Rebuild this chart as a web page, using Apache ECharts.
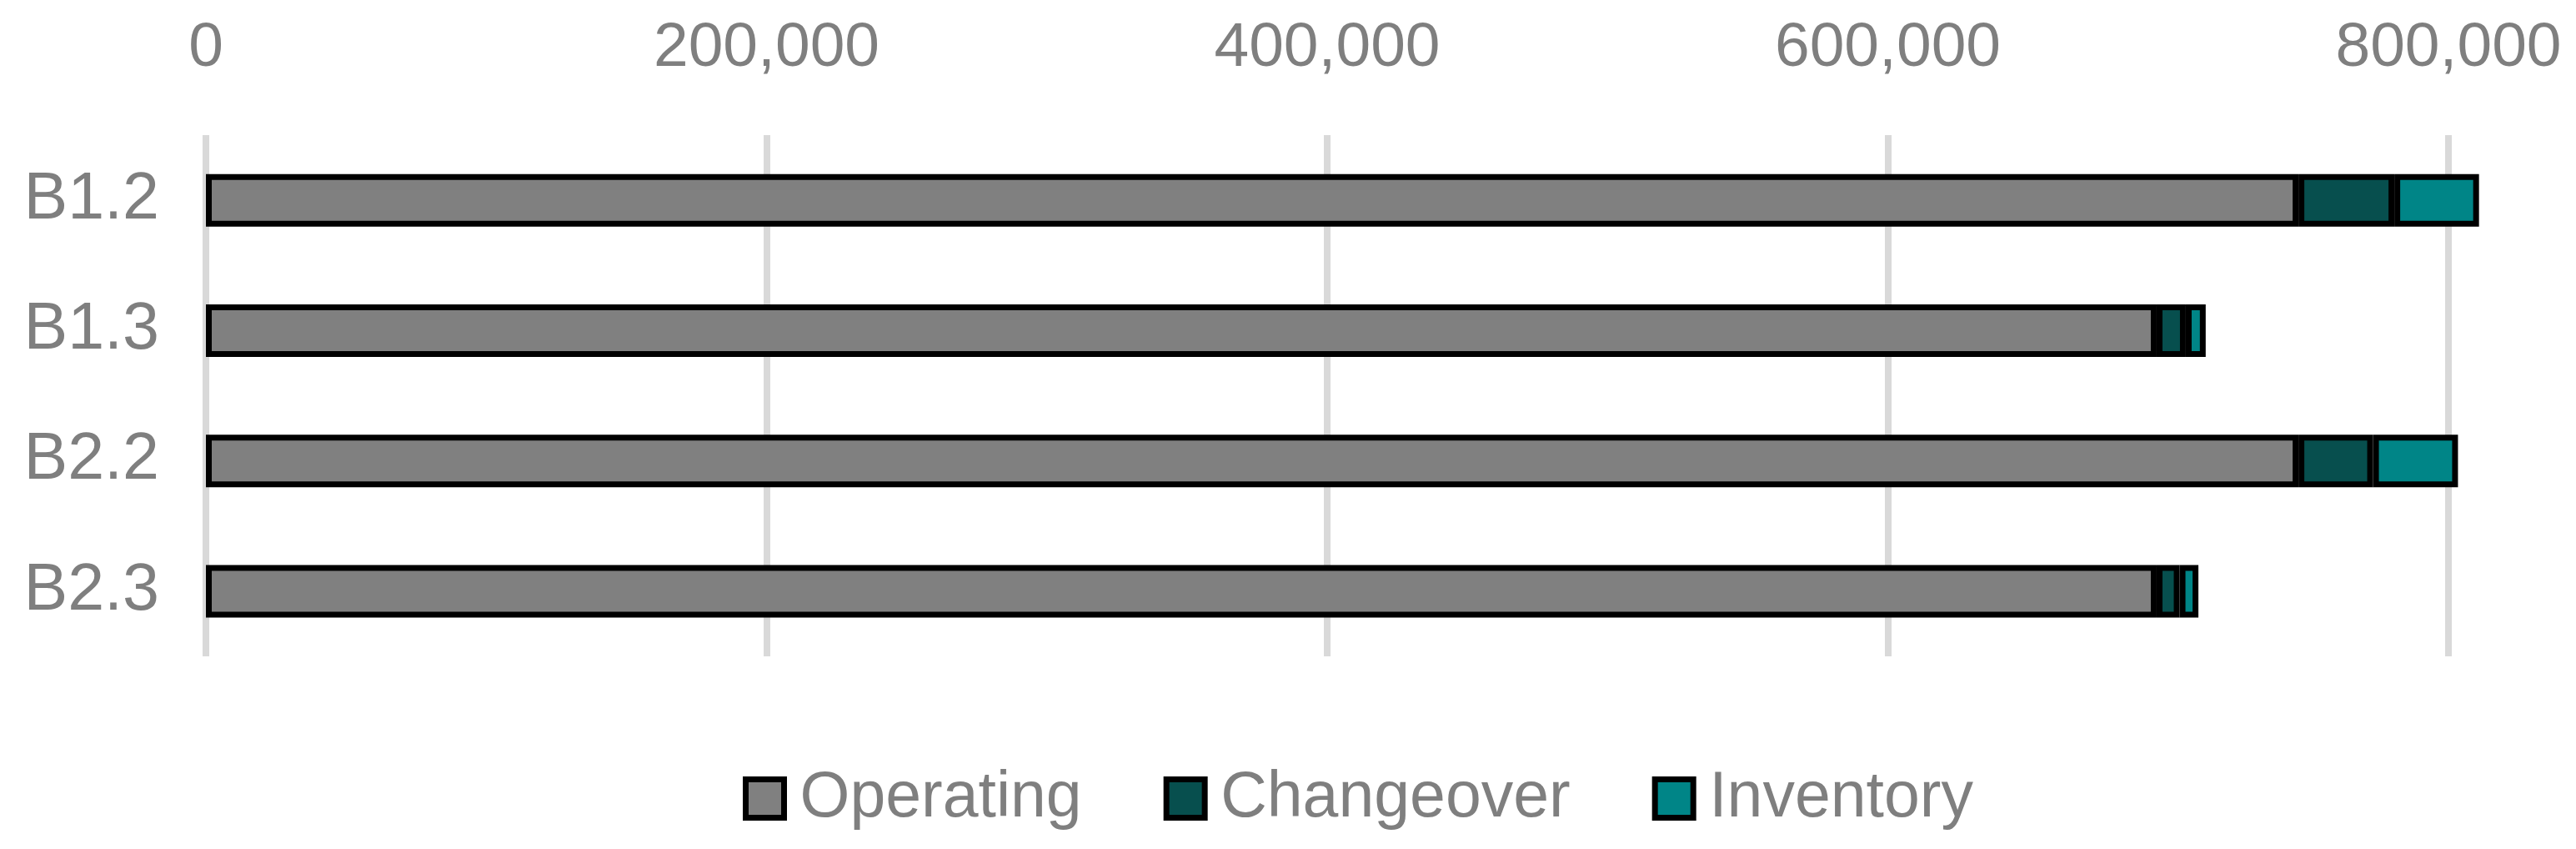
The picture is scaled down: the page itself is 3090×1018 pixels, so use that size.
<!DOCTYPE html>
<html>
<head>
<meta charset="utf-8">
<script src="https://cdn.jsdelivr.net/npm/echarts@6/dist/echarts.min.js"></script>
<style>
  html, body { margin: 0; padding: 0; background: #fff; }
  #container { width: 3090px; height: 1018px; }
</style>
</head>
<body>
<div id="container"></div>
<script>
var categories = ["B1.2", "B1.3", "B2.2", "B2.3"];
var operating = [746500, 695900, 746500, 695900];
var changeover = [34200, 10400, 26600, 8200];
var inventory = [30200, 7100, 30300, 6700];
var xTicks = [0, 200000, 400000, 600000, 800000];

var element = document.getElementById("container");
var myChart = echarts.init(element);

var font = "Liberation Sans";
var textColor = "#7f7f7f";

function seg(name, data, color) {
  return {
    name: name,
    type: "bar",
    stack: "total",
    data: data,
    barWidth: 63,
    clip: false,
    itemStyle: { color: color, borderColor: "#000", borderWidth: 7 },
    emphasis: { disabled: true }
  };
}

const option = {
  animation: false,
  backgroundColor: "#fff",
  grid: { left: 247, right: 153, top: 162, bottom: 231 },
  xAxis: {
    type: "value",
    position: "top",
    min: xTicks[0],
    max: xTicks[xTicks.length - 1],
    interval: xTicks[1] - xTicks[0],
    axisLine: { show: false },
    axisTick: { show: false },
    axisLabel: {
      margin: 66,
      color: textColor,
      fontFamily: font,
      fontSize: 75,
      formatter: function (v) { return v.toLocaleString("en-US"); }
    },
    splitLine: { lineStyle: { color: "#d9d9d9", width: 8 } }
  },
  yAxis: {
    type: "category",
    inverse: true,
    data: categories,
    axisLine: { show: false },
    axisTick: { show: false },
    axisLabel: { margin: 56, color: textColor, fontFamily: font, fontSize: 79 }
  },
  legend: {
    top: 914,
    left: 886,
    icon: "rect",
    itemWidth: 46,
    itemHeight: 46,
    itemGap: 98,
    itemStyle: { borderColor: "#000", borderWidth: 7 },
    textStyle: { color: textColor, fontFamily: font, fontSize: 77, padding: [0, 0, 0, 14] },
    data: ["Operating", "Changeover", "Inventory"]
  },
  series: [
    seg("Operating", operating, "#808080"),
    seg("Changeover", changeover, "#074f4e"),
    seg("Inventory", inventory, "#008587")
  ]
};
option && myChart.setOption(option);
</script>
</body>
</html>
